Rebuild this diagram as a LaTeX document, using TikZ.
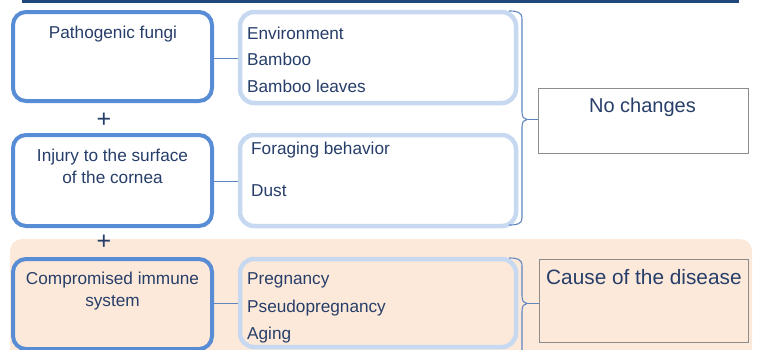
\documentclass[tikz,border=0pt]{standalone}
\usepackage{fontspec}
\setmainfont{Liberation Sans}
\definecolor{txt}{RGB}{38,62,105}
\definecolor{darkbox}{RGB}{88,140,212}
\definecolor{lightbox}{RGB}{198,217,241}
\definecolor{peach}{RGB}{253,233,218}
\definecolor{topbar}{RGB}{31,73,125}
\definecolor{conn}{RGB}{96,134,192}
\definecolor{grayb}{RGB}{140,140,140}
\begin{document}
\begin{tikzpicture}[x=1pt,y=-1pt,
  darkstyle/.style={draw=darkbox,line width=4pt,rounded corners=13pt},
  lightstyle/.style={draw=lightbox,line width=4.5pt,rounded corners=14pt},
  graystyle/.style={draw=grayb,line width=0.9pt},
  lbl/.style={text=txt,font=\fontsize{17.2}{19}\selectfont,inner sep=0pt,anchor=base west},
  clbl/.style={text=txt,font=\fontsize{17.2}{19}\selectfont,inner sep=0pt,anchor=base},
  bigl/.style={text=txt,font=\fontsize{20}{22}\selectfont,inner sep=0pt},
  plusl/.style={text=txt,font=\fontsize{25}{25}\selectfont,inner sep=0pt},
  cline/.style={draw=conn,line width=1pt},
  brace/.style={draw=conn,line width=1.1pt}]
\useasboundingbox (0,0) rectangle (758,349);
\begin{scope}
\clip (0,0) rectangle (758,349);
% top bar
\fill[topbar] (22,0) rectangle (739,3.2);
% peach region
\fill[peach,rounded corners=12pt] (10,239) rectangle (752,380);
% boxes
\node[darkstyle,fill=white,minimum width=199pt,minimum height=89pt,inner sep=0pt] (b1) at (112.5,56.5) {};
\node[lightstyle,fill=white,minimum width=276pt,minimum height=91pt,inner sep=0pt] (b2) at (378,57.5) {};
\node[darkstyle,fill=white,minimum width=199pt,minimum height=91pt,inner sep=0pt] (b3) at (112.5,180.5) {};
\node[lightstyle,fill=white,minimum width=276pt,minimum height=91pt,inner sep=0pt] (b4) at (378,180.5) {};
\node[darkstyle,minimum width=199pt,minimum height=90pt,inner sep=0pt] (b5) at (112.5,304) {};
\node[lightstyle,minimum width=276pt,minimum height=88pt,inner sep=0pt] (b6) at (378,303) {};
\node[graystyle,fill=white,minimum width=210pt,minimum height=65pt,inner sep=0pt] (nc) at (643,120.5) {};
\node[graystyle,minimum width=209pt,minimum height=83pt,inner sep=0pt] (cd) at (643.5,300.5) {};
% connectors
\draw[cline] (b1.east |- 0,58) -- (b2.west |- 0,58);
\draw[cline] (b3.east |- 0,181) -- (b4.west |- 0,181);
\draw[cline] (b5.east |- 0,303) -- (b6.west |- 0,303);
% braces
\coordinate (t1) at (527,119.5);
\coordinate (t2) at (527,303.5);
\draw[brace] (509,11) .. controls (517,11) and (522,12) .. (522,19) -- (522,112)
  .. controls (522,117) and (524,119.5) .. (t1)
  .. controls (524,119.5) and (522,122) .. (522,127) -- (522,218)
  .. controls (522,224) and (517,225) .. (509,225);
\draw[brace] (t1) -- (nc.west |- t1);
\draw[brace] (509,258) .. controls (517,258) and (522,259) .. (522,266) -- (522,296)
  .. controls (522,301) and (524,303.5) .. (t2)
  .. controls (524,303.5) and (522,306) .. (522,311) -- (522,360);
\draw[brace] (t2) -- (cd.west |- t2);
\end{scope}
% texts
\node[clbl] (x1) at (113,38) {Pathogenic fungi};
\node[lbl] (e1) at (247,39) {Environment};
\node[lbl] (e2) at (247,65) {Bamboo};
\node[lbl] (e3) at (247,92) {Bamboo leaves};
\node[bigl,anchor=base] (ncl) at (642.5,112) {No changes};
\node[clbl] (x2) at (112.5,161) {Injury to the surface};
\node[clbl] (x3) at (112.5,183) {of the cornea};
\node[lbl] (f1) at (251,154) {Foraging behavior};
\node[lbl] (f2) at (251,196) {Dust};
\node[clbl] (x4) at (112.5,284) {Compromised immune};
\node[clbl] (x5) at (112.5,306) {system};
\node[lbl] (p1) at (247,284) {Pregnancy};
\node[lbl] (p2) at (247,312) {Pseudopregnancy};
\node[lbl] (p3) at (247,339) {Aging};
\node[bigl,anchor=base west,font=\fontsize{20.8}{22}\selectfont] (cdl) at (546,284) {Cause of the disease};
\node[plusl] (plus1) at (104,120) {+};
\node[plusl] (plus2) at (104,242) {+};
\end{tikzpicture}
\end{document}
